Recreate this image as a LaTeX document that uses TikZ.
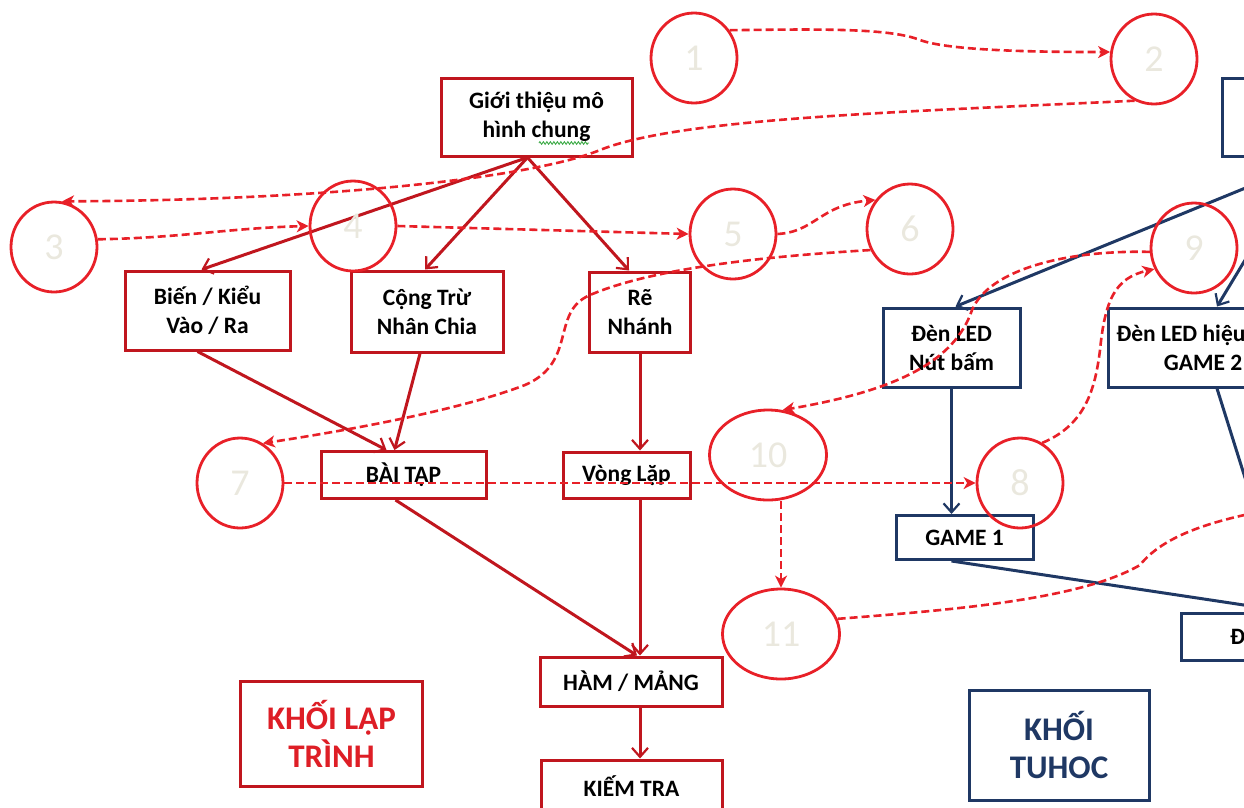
\documentclass[tikz,border=0pt]{standalone}
\usepackage{fontspec}
\setmainfont{Carlito}
\usetikzlibrary{shapes.geometric,arrows.meta,decorations.pathmorphing}
\definecolor{dred}{RGB}{192,22,30}
\definecolor{bred}{RGB}{232,32,40}
\definecolor{kred}{RGB}{222,30,38}
\definecolor{navy}{RGB}{31,56,100}
\definecolor{numgray}{RGB}{234,232,222}
\definecolor{squig}{RGB}{60,170,70}
\begin{document}
\begin{tikzpicture}[x=1pt,y=-1pt,
  rbox/.style={draw=dred, line width=3pt, fill=white, inner sep=0pt, align=center,
    font=\fontsize{23.5}{29}\selectfont\bfseries, text=black},
  bbox/.style={rbox, draw=navy},
  bigtxt/.style={font=\fontsize{33}{38}\selectfont\bfseries},
  num/.style={ellipse, draw=bred, line width=2.8pt, inner sep=0pt, minimum width=86pt,
    minimum height=90pt, text=numgray, font=\fontsize{38}{38}\selectfont},
  wnum/.style={num, minimum width=117pt},
  rarr/.style={draw=dred, line width=3pt, -{Straight Barb[length=9pt,width=16pt,line width=2.2pt]}},
  barr/.style={draw=navy, line width=3pt, -{Straight Barb[length=9pt,width=16pt,line width=2.2pt]}},
  dline/.style={draw=bred, line width=2.6pt, dash pattern=on 8pt off 4pt},
  darr/.style={dline, -{Stealth[length=12pt,width=12pt,inset=3.5pt]}},
]
\useasboundingbox (0,0) rectangle (1244,807);
\clip (0,0) rectangle (1244,807);

% ---- red boxes
\node[rbox, minimum width=191pt, minimum height=78pt] (gt) at (536.5,117) {Giới thiệu mô\\hình chung};
\node[rbox, minimum width=165pt, minimum height=79pt] (bk) at (207.5,310.5) {Biến / Kiểu\\Vào / Ra};
\node[rbox, minimum width=152pt, minimum height=81pt] (ct) at (427,311.5) {Cộng Trừ\\Nhân Chia};
\node[rbox, minimum width=101pt, minimum height=80pt] (rn) at (640,312) {Rẽ\\Nhánh};
\node[rbox, minimum width=165pt, minimum height=47pt] (bt) at (403.5,475) {BÀI TẬP};
\node[rbox, minimum width=127pt, minimum height=46pt] (vl) at (626.5,475) {Vòng Lặp};
\node[rbox, minimum width=182pt, minimum height=49pt] (ham) at (631,681.5) {HÀM / MẢNG};
\node[rbox, minimum width=181pt, minimum height=52pt] (kt) at (631.5,786) {KIẾM TRA};
\node[rbox, bigtxt, text=kred, minimum width=182pt, minimum height=105pt] (klt) at (331.5,733.5) {KHỐI LẬP\\TRÌNH};

% ---- blue boxes
\node[bbox, minimum width=196pt, minimum height=78pt] (tr) at (1320,117) {};
\node[bbox, minimum width=137pt, minimum height=79pt] (led1) at (951.5,347.5) {Đèn LED\\Nút bấm};
\node[bbox, minimum width=190pt, minimum height=79pt] (led2) at (1203,347.5) {Đèn LED hiệu ứng\\GAME 2};
\node[bbox, minimum width=137pt, minimum height=44pt] (g1) at (964.5,537.5) {GAME 1};
\node[bbox, minimum width=212pt, minimum height=47pt] (db) at (1287,636.5) {};
\node[anchor=west, inner sep=0pt, font=\fontsize{23.5}{29}\selectfont\bfseries] (dtxt) at (1230,637) {Đ};
\node[bbox, bigtxt, text=navy, minimum width=180pt, minimum height=110pt] (kth) at (1059,745) {KHỐI\\TUHOC};

% spelling squiggle under "chung"
\draw[squig, line width=0.9pt, decorate, decoration={zigzag, amplitude=1.3pt, segment length=3.5pt}] (539,143) -- (589,143);

% ---- solid red connectors
\draw[rarr] ([xshift=-9]gt.south) -- ([xshift=-6]bk.north);
\draw[rarr] ([xshift=-9]gt.south) -- ([xshift=-2]ct.north);
\draw[rarr] ([xshift=-9]gt.south) -- ([xshift=-11]rn.north);
\draw[rarr] ([xshift=-10]bk.south) -- ([xshift=-17]bt.north);
\draw[rarr] ([xshift=-7]ct.south) -- ([xshift=-9]bt.north);
\draw[rarr] (rn.south) -- (rn.south |- vl.north);
\draw[rarr] ([xshift=-8]bt.south) -- ([xshift=6]ham.north);
\draw[rarr] (rn.south |- vl.south) -- (rn.south |- ham.north);
\draw[rarr] (rn.south |- ham.south) -- (rn.south |- kt.north);

% ---- blue connectors
\draw[barr] (tr.south) -- ([xshift=4]led1.north);
\draw[barr] ([xshift=-13]tr.south) -- ([xshift=14]led2.north);
\draw[barr] (led1.south) -- (led1.south |- g1.north);
\draw[barr] (led1.south |- g1.south) -- (db.north);
\draw[barr] ([xshift=14]led2.south) -- (db.north);

% ---- numbered circles
\node[num] (c1) at (694,58) {1};
\node[num] (c2) at (1154,59) {2};
\node[num] (c3) at (54,247) {3};
\node[num] (c4) at (353,226) {4};
\node[num] (c5) at (733,234) {5};
\node[num] (c6) at (910,229) {6};
\node[num] (c7) at (240,483) {7};
\node[num] (c8) at (1020,483) {8};
\node[num] (c9) at (1194,248) {9};
\node[wnum] (c10) at (768,455) {10};
\node[wnum] (c11) at (781,634) {11};
\coordinate (off11) at (1275,509);

% ---- dashed sequence
\draw[darr] (c1.38) .. controls (820,29) and (890,28) .. (920,40)
   .. controls (950,51) and (1040,52) .. (c2.171);
\draw[darr] (c2.245) .. controls (900,112) and (680,118) .. (600,150)
   .. controls (540,175) and (350,200) .. (c3.80);
\draw[darr] (c3.10) .. controls (180,238) and (230,228) .. (c4.west);
\draw[darr] (c4.east) -- (c5.west);
\draw[darr] (c5.east) .. controls (815,232) and (820,205) .. (c6.140);
\draw[darr] (c6.208) .. controls (790,255) and (660,265) .. (590,295)
   .. controls (550,312) and (578,362) .. (525,385)
   .. controls (460,410) and (350,430) .. (c7.60);
\draw[darr] (c7.east) -- (c8.west);
\draw[darr] (c8.61) .. controls (1085,425) and (1095,390) .. (1100,350)
   .. controls (1105,300) and (1115,278) .. (c9.208);
\draw[darr] (c9.185) .. controls (1070,250) and (990,268) .. (972,310)
   .. controls (955,360) and (900,390) .. (c10.72);
\draw[darr] (c11.north |- c10.south) -- (c11.north);
\draw[dline] (c11.15) .. controls (950,610) and (1080,600) .. (1140,565)
   .. controls (1160,540) and (1200,522) .. (off11);
\end{tikzpicture}
\end{document}
